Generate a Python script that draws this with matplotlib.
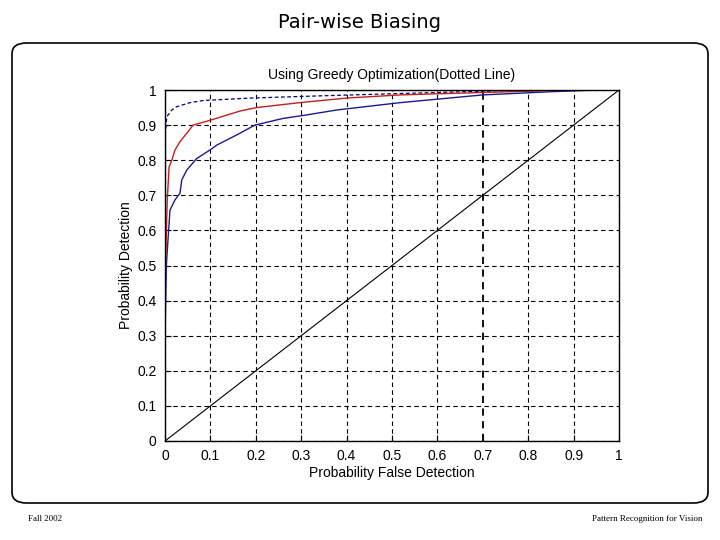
import matplotlib
matplotlib.use("Agg")
import matplotlib.pyplot as plt
from matplotlib.patches import FancyBboxPatch

# curvas ROC
fpr_red = [0, 0, 0.002, 0.005, 0.009, 0.015, 0.022, 0.033, 0.048, 0.062, 0.1, 0.165,
           0.202, 0.297, 0.40, 0.518, 0.70, 0.90, 1.0]
tpr_red = [0, 0.45, 0.55, 0.687, 0.781, 0.80, 0.829, 0.853, 0.877, 0.90, 0.914, 0.94,
           0.95, 0.964, 0.977, 0.986, 0.993, 1.0, 1.0]

fpr_blue = [0, 0, 0.003, 0.007, 0.011, 0.022, 0.033, 0.037, 0.048, 0.07, 0.099, 0.114,
            0.158, 0.198, 0.26, 0.312, 0.378, 0.518, 0.70, 0.848, 0.95, 1.0]
tpr_blue = [0, 0.30, 0.50, 0.582, 0.658, 0.687, 0.706, 0.744, 0.772, 0.805, 0.829, 0.843,
            0.872, 0.90, 0.919, 0.929, 0.943, 0.964, 0.986, 0.995, 1.0, 1.0]

fpr_greedy = [0, 0.001, 0.004, 0.015, 0.025, 0.055, 0.084, 0.187, 0.334, 0.518, 0.80, 1.0]
tpr_greedy = [0, 0.88, 0.924, 0.943, 0.952, 0.964, 0.97, 0.977, 0.983, 0.99, 1.0, 1.0]

diag = [0, 1]
ticks = [0, 0.1, 0.2, 0.3, 0.4, 0.5, 0.6, 0.7, 0.8, 0.9, 1]
tick_labels = ['0', '0.1', '0.2', '0.3', '0.4', '0.5', '0.6', '0.7', '0.8', '0.9', '1']

plt.rcParams['font.family'] = ['Liberation Sans', 'DejaVu Sans']

fig = plt.figure(figsize=(7.2, 5.4), dpi=100)
fig.patch.set_facecolor('white')

# marco redondeado de la diapositiva
marco = FancyBboxPatch((12 / 720, 37 / 540), 696 / 720, 460 / 540,
                       boxstyle="round,pad=0,rounding_size=0.02",
                       transform=fig.transFigure, fill=False, edgecolor='black', linewidth=1.2)
fig.patches.append(marco)

fig.text(0.5, 1 - 22 / 540, 'Pair-wise Biasing', ha='center', va='center',
         fontsize=14, family='DejaVu Sans')
fig.text(28 / 720, 1 - 519 / 540, 'Fall 2002', ha='left', va='center',
         fontsize=6.5, family='Liberation Serif')
fig.text(702 / 720, 1 - 519 / 540, 'Pattern Recognition for Vision', ha='right', va='center',
         fontsize=6.5, family='Liberation Serif')

ax = fig.add_axes([165 / 720, 99 / 540, 454 / 720, 351 / 540])
ax.plot(diag, diag, color='black', linewidth=0.8)
ax.plot(fpr_greedy, tpr_greedy, color='#000070', linestyle=(0, (3, 2)), linewidth=0.9)
ax.plot(fpr_blue, tpr_blue, color='#1a1a90', linewidth=1.0)
ax.plot(fpr_red, tpr_red, color='#c02020', linewidth=1.0)

ax.set_xlim(0, 1)
ax.set_ylim(0, 1)
ax.set_xticks(ticks)
ax.set_xticklabels(tick_labels)
ax.set_yticks(ticks)
ax.set_yticklabels(tick_labels)
ax.tick_params(direction='in', length=4, labelsize=10, pad=6)
ax.grid(True, color='black', linestyle=(0, (4, 3)), linewidth=0.8)
ax.get_xgridlines()[7].set_linewidth(1.3)
for spine in ax.spines.values():
    spine.set_linewidth(1.0)

ax.set_title('Using Greedy Optimization(Dotted Line)', fontsize=10, pad=8)
ax.set_xlabel('Probability False Detection', fontsize=10, labelpad=2)
ax.set_ylabel('Probability Detection', fontsize=10, labelpad=3)

fig.savefig('out.png', dpi=100)
